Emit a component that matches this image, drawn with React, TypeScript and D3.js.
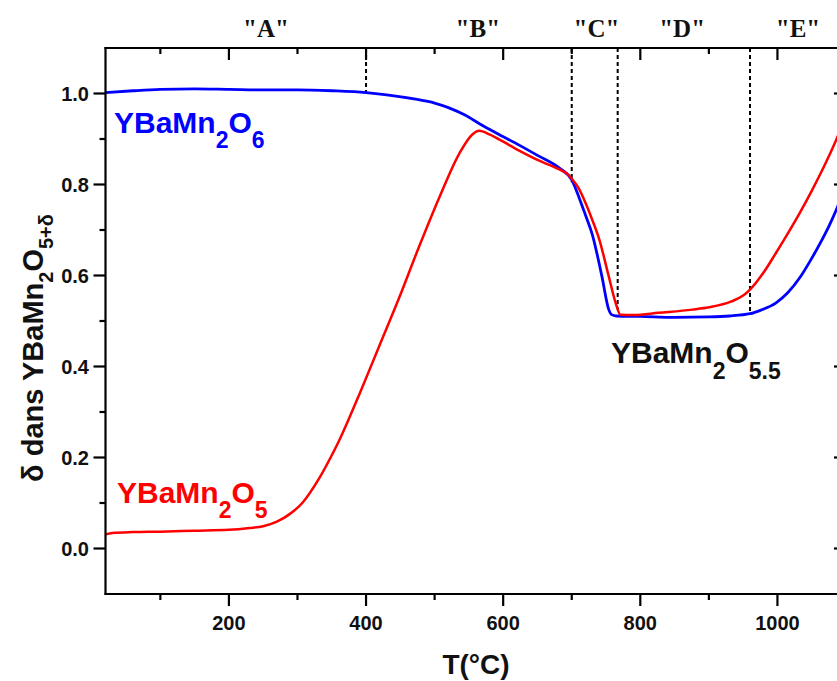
import React from "react";
import * as d3 from "d3";

// ---- data ----
const blueT = [20, 60, 100, 150, 200, 250, 300, 350, 400, 430, 470, 500, 520, 545, 566, 594, 624, 650, 682, 700, 711, 720, 730, 744, 754, 758, 765, 800, 850, 900, 930, 960, 976, 998, 1015, 1033, 1047, 1062, 1075, 1086, 1100];
const blueD = [1.002, 1.006, 1.009, 1.010, 1.009, 1.008, 1.008, 1.006, 1.002, 0.997, 0.988, 0.979, 0.969, 0.952, 0.933, 0.910, 0.886, 0.864, 0.836, 0.810, 0.770, 0.733, 0.690, 0.598, 0.525, 0.514, 0.511, 0.510, 0.508, 0.509, 0.511, 0.516, 0.524, 0.540, 0.562, 0.596, 0.630, 0.670, 0.708, 0.745, 0.797];

const redT = [20, 30, 60, 100, 150, 200, 230, 250, 270, 288, 307, 332, 350, 361, 375, 390, 419, 448, 477, 507, 536, 555, 565, 580, 594, 624, 650, 682, 693, 701, 710, 720, 730, 740, 754, 764, 771, 790, 827, 876, 900, 933, 950, 960, 980, 998, 1015, 1032, 1050, 1070, 1086, 1100];
const redD = [0.031, 0.034, 0.036, 0.037, 0.039, 0.041, 0.045, 0.049, 0.059, 0.075, 0.100, 0.155, 0.205, 0.238, 0.285, 0.338, 0.444, 0.550, 0.662, 0.772, 0.868, 0.910, 0.918, 0.910, 0.899, 0.874, 0.854, 0.833, 0.824, 0.811, 0.792, 0.760, 0.722, 0.680, 0.598, 0.540, 0.514, 0.513, 0.518, 0.525, 0.530, 0.543, 0.556, 0.569, 0.607, 0.650, 0.692, 0.736, 0.786, 0.846, 0.899, 0.950];

const xMajor = [200, 400, 600, 800, 1000];
const xMinor = [100, 300, 500, 700, 900];
const yMajor = [0, 0.2, 0.4, 0.6, 0.8, 1.0];
const yMinor = [0.1, 0.3, 0.5, 0.7, 0.9];

const dashT = [400, 700, 767, 960];
const dashEnd = [1.0, 0.805, 0.525, 0.52];

const phaseLabels = ['"A"', '"B"', '"C"', '"D"', '"E"'];
const phaseT = [254, 563, 736, 861, 1030];

const SANS = "'Liberation Sans', Arial, Helvetica, sans-serif";
const SERIF = "'Liberation Serif', 'Times New Roman', serif";

export default function App() {
  const W = 837, H = 681;
  const left = 105.5, right = 846, top = 48, bottom = 594;
  const x = d3.scaleLinear().domain([20, 1100]).range([left, right]);
  const y = d3.scaleLinear().domain([-0.1, 1.1]).range([bottom, top]);

  const line = d3
    .line<[number, number]>()
    .x((d) => x(d[0]))
    .y((d) => y(d[1]))
    .curve(d3.curveMonotoneX);

  const blue = line(blueT.map((t, i) => [t, blueD[i]]) as [number, number][]) || "";
  const red = line(redT.map((t, i) => [t, redD[i]]) as [number, number][]) || "";

  const fmt = d3.format(".1f");
  const major = 12, minor = 6;

  return (
    <svg width={W} height={H} style={{ position: "absolute", left: 0, top: 0, background: "#fff" }}>
      <defs>
        <clipPath id="plot">
          <rect x={left} y={top} width={right - left} height={bottom - top} />
        </clipPath>
      </defs>

      {/* dashed separators */}
      {dashT.map((t, i) => (
        <line key={"d" + i} x1={x(t)} x2={x(t)} y1={top} y2={y(dashEnd[i])} stroke="#000" strokeWidth={2} strokeDasharray="4,3" />
      ))}

      {/* curves */}
      <g clipPath="url(#plot)">
        <path d={blue} fill="none" stroke="#0000ff" strokeWidth={2.8} strokeLinejoin="round" />
        <path d={red} fill="none" stroke="#ff0000" strokeWidth={2.5} strokeLinejoin="round" />
      </g>

      {/* axes frame */}
      <g stroke="#000" strokeWidth={2.2} fill="none">
        <line x1={left} x2={left} y1={top - 1} y2={bottom + 1} />
        <line x1={right} x2={right} y1={top - 1} y2={bottom + 1} />
        <line x1={left - 1} x2={right + 1} y1={top} y2={top} />
        <line x1={left - 1} x2={right + 1} y1={bottom} y2={bottom} />
      </g>

      {/* ticks */}
      <g stroke="#000" strokeWidth={2.2}>
        {xMajor.map((t) => (
          <g key={"xm" + t}>
            <line x1={x(t)} x2={x(t)} y1={bottom} y2={bottom + major} />
            <line x1={x(t)} x2={x(t)} y1={top} y2={top + major} />
          </g>
        ))}
        {xMinor.map((t) => (
          <g key={"xn" + t}>
            <line x1={x(t)} x2={x(t)} y1={bottom} y2={bottom + minor} />
            <line x1={x(t)} x2={x(t)} y1={top} y2={top + minor} />
          </g>
        ))}
        {yMajor.map((v) => (
          <g key={"ym" + v}>
            <line x1={left - major} x2={left} y1={y(v)} y2={y(v)} />
            <line x1={right - major} x2={right} y1={y(v)} y2={y(v)} />
          </g>
        ))}
        {yMinor.map((v) => (
          <g key={"yn" + v}>
            <line x1={left - minor} x2={left} y1={y(v)} y2={y(v)} />
            <line x1={right - minor} x2={right} y1={y(v)} y2={y(v)} />
          </g>
        ))}
      </g>

      {/* tick labels */}
      <g fontFamily={SANS} fontWeight="bold" fontSize={20} fill="#111">
        {xMajor.map((t) => (
          <text key={"xl" + t} x={x(t)} y={630} textAnchor="middle">{t}</text>
        ))}
        {yMajor.map((v) => (
          <text key={"yl" + v} x={89} y={y(v) + 7} textAnchor="end">{fmt(v)}</text>
        ))}
      </g>

      {/* axis titles */}
      <text x={476} y={674} textAnchor="middle" fontFamily={SANS} fontWeight="bold" fontSize={28} fill="#111">T(°C)</text>
      <text transform="translate(43,348) rotate(-90)" textAnchor="middle" fontFamily={SANS} fontWeight="bold" fontSize={29} fill="#111">
        δ dans YBaMn<tspan dy={10} fontSize={20}>2</tspan><tspan dy={-10}>O</tspan><tspan dy={10} fontSize={20}>5+δ</tspan>
      </text>

      {/* phase labels */}
      <g fontFamily={SERIF} fontWeight="bold" fontSize={25} fill="#111">
        {phaseLabels.map((s, i) => (
          <text key={"p" + i} x={x(phaseT[i])} y={37} textAnchor="middle">{s}</text>
        ))}
      </g>

      {/* curve labels */}
      <text x={114} y={133} fontFamily={SANS} fontWeight="bold" fontSize={30} fill="#0000ff">
        YBaMn<tspan dy={15} fontSize={23}>2</tspan><tspan dy={-15}>O</tspan><tspan dy={15} fontSize={23}>6</tspan>
      </text>
      <text x={117} y={503} fontFamily={SANS} fontWeight="bold" fontSize={30} fill="#ff0000">
        YBaMn<tspan dy={15} fontSize={23}>2</tspan><tspan dy={-15}>O</tspan><tspan dy={15} fontSize={23}>5</tspan>
      </text>
      <text x={611} y={363} fontFamily={SANS} fontWeight="bold" fontSize={30} fill="#111">
        YBaMn<tspan dy={16} fontSize={23}>2</tspan><tspan dy={-16}>O</tspan><tspan dy={16} fontSize={23}>5.5</tspan>
      </text>
    </svg>
  );
}
